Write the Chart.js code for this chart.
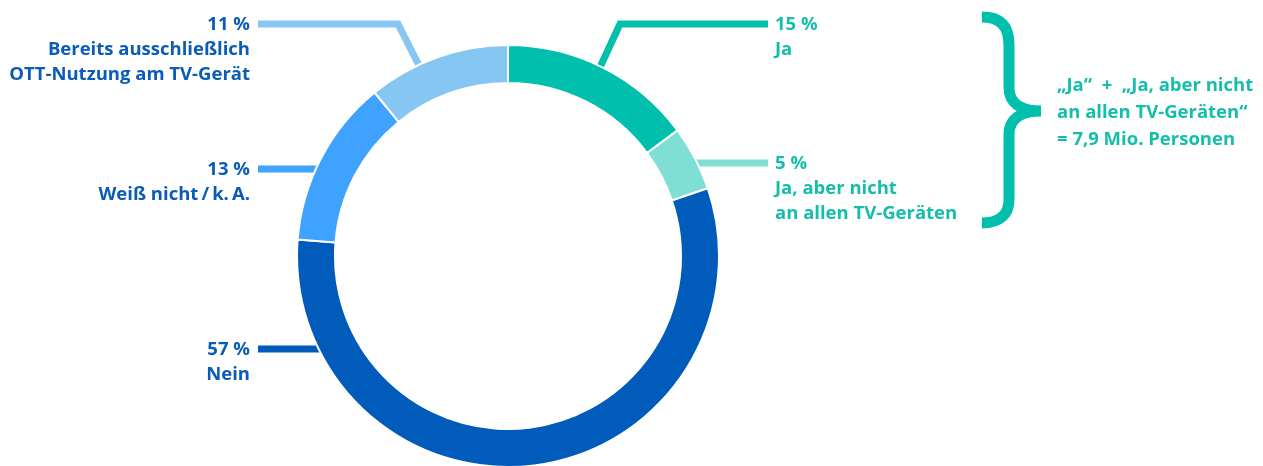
<!DOCTYPE html>
<html>
<head>
<meta charset="utf-8">
<script src="https://cdn.jsdelivr.net/npm/chart.js"></script>
<style>
  html, body { margin: 0; padding: 0; background: #fff; overflow: hidden; }
  #wrap { position: relative; width: 1263px; height: 466px; }
  #wrap canvas { position: absolute; left: 0; top: 0; }
  .lbl { position: absolute; font-family: "Open Sans", "Noto Sans", sans-serif; font-weight: 700;
         font-size: 18.5px; line-height: 25px; white-space: nowrap; }
  .left { text-align: right; color: #0B5CB7; }
  .right { text-align: left; color: #14BEAB; }
</style>
</head>
<body>
<div id="wrap">
  <canvas id="chart" width="1263" height="470"></canvas>
</div>
<script>
// values, clockwise from 12 o'clock
const categories = ['Ja', 'Ja, aber nicht an allen TV-Geräten', 'Nein', 'Weiß nicht / k. A.', 'Bereits ausschließlich OTT-Nutzung am TV-Gerät'];
const labelLines = [['Ja'], ['Ja, aber nicht', 'an allen TV-Geräten'], ['Nein'], ['Weiß nicht\u2009/\u2009k.\u2009A.'], ['Bereits ausschließlich', 'OTT-Nutzung am TV-Gerät']];
const values = [15, 5, 57, 13, 11];
const colors = ['#00BFAD', '#80DFD4', '#005BBB', '#3FA2FF', '#85C7F2'];
const braceLines = ['„Ja“ \u00a0+ \u00a0„Ja, aber nicht', 'an allen TV-Geräten“', '= 7,9 Mio. Personen'];

// where the labels sit
const layout = [
    { side: 'right', top: 10, x: 775, elbow: { cornerX: 620, angle: 26 } },
    { side: 'right', top: 149, x: 775 },
    { side: 'left', top: 335, x: 250 },
    { side: 'left', top: 155, x: 250 },
    { side: 'left', top: 10, x: 250, elbow: { cornerX: 398, angle: 335 } }
];

const wrap = document.getElementById('wrap');
layout.forEach(function (l, i) {
    let d = document.createElement('div');
    d.className = 'lbl ' + l.side;
    d.style.top = l.top + 'px';
    if (l.side == 'left') d.style.right = (1263 - l.x) + 'px';
    else d.style.left = l.x + 'px';
    d.innerHTML = values[i] + '\u00a0%<br>' + labelLines[i].join('<br>');
    wrap.appendChild(d);
});
let b = document.createElement('div');
b.className = 'lbl right';
b.style.left = '1057px';
b.style.top = '70px';
b.style.lineHeight = '27px';
b.innerHTML = braceLines.join('<br>');
wrap.appendChild(b);

const leaders = {
    id: 'leaders',
    beforeDatasetsDraw: function (chart) {
        const ctx = chart.ctx;
        const arcs = chart.getDatasetMeta(0).data;
        const cx = arcs[0].x, cy = arcs[0].y, r = arcs[0].outerRadius;
        ctx.save();
        ctx.lineWidth = 7;
        ctx.lineJoin = 'miter';
        layout.forEach(function (l, i) {
            const y = l.top + 14;
            const xs = l.side == 'left' ? l.x + 8 : l.x - 7;
            ctx.strokeStyle = colors[i];
            ctx.beginPath();
            ctx.moveTo(xs, y);
            if (l.elbow) {
                const a = l.elbow.angle * Math.PI / 180;
                ctx.lineTo(l.elbow.cornerX, y);
                ctx.lineTo(cx + (r - 4) * Math.sin(a), cy - (r - 4) * Math.cos(a));
            } else {
                const dx = Math.sqrt(r * r - (y - cy) * (y - cy)) - 4;
                ctx.lineTo(l.side == 'left' ? cx - dx : cx + dx, y);
            }
            ctx.stroke();
        });
        ctx.restore();
    },
    afterDraw: function (chart) {
        // curly brace
        const ctx = chart.ctx;
        ctx.save();
        ctx.strokeStyle = '#00BFAD';
        ctx.lineWidth = 11;
        ctx.beginPath();
        ctx.moveTo(982, 17);
        ctx.bezierCurveTo(1000, 17, 1009, 26, 1009, 45);
        ctx.lineTo(1009, 88);
        ctx.bezierCurveTo(1009, 102, 1020, 111, 1041, 111);
        ctx.moveTo(1041, 111);
        ctx.bezierCurveTo(1020, 111, 1009, 120, 1009, 134);
        ctx.lineTo(1009, 200);
        ctx.bezierCurveTo(1009, 214, 1000, 223, 982, 223);
        ctx.stroke();
        ctx.restore();
    }
};

new Chart(document.getElementById('chart'), {
    type: 'doughnut',
    data: {
        labels: categories,
        datasets: [
            {
                data: values,
                backgroundColor: colors,
                borderColor: '#ffffff',
                borderWidth: 2,
                hoverOffset: 0
            }
        ]
    },
    options: {
        responsive: false,
        animation: false,
        cutout: '82%',
        layout: { padding: { left: 296, right: 543, top: 44, bottom: 2 } },
        plugins: {
            legend: { display: false },
            tooltip: { enabled: false }
        }
    },
    plugins: [leaders]
});
</script>
</body>
</html>
